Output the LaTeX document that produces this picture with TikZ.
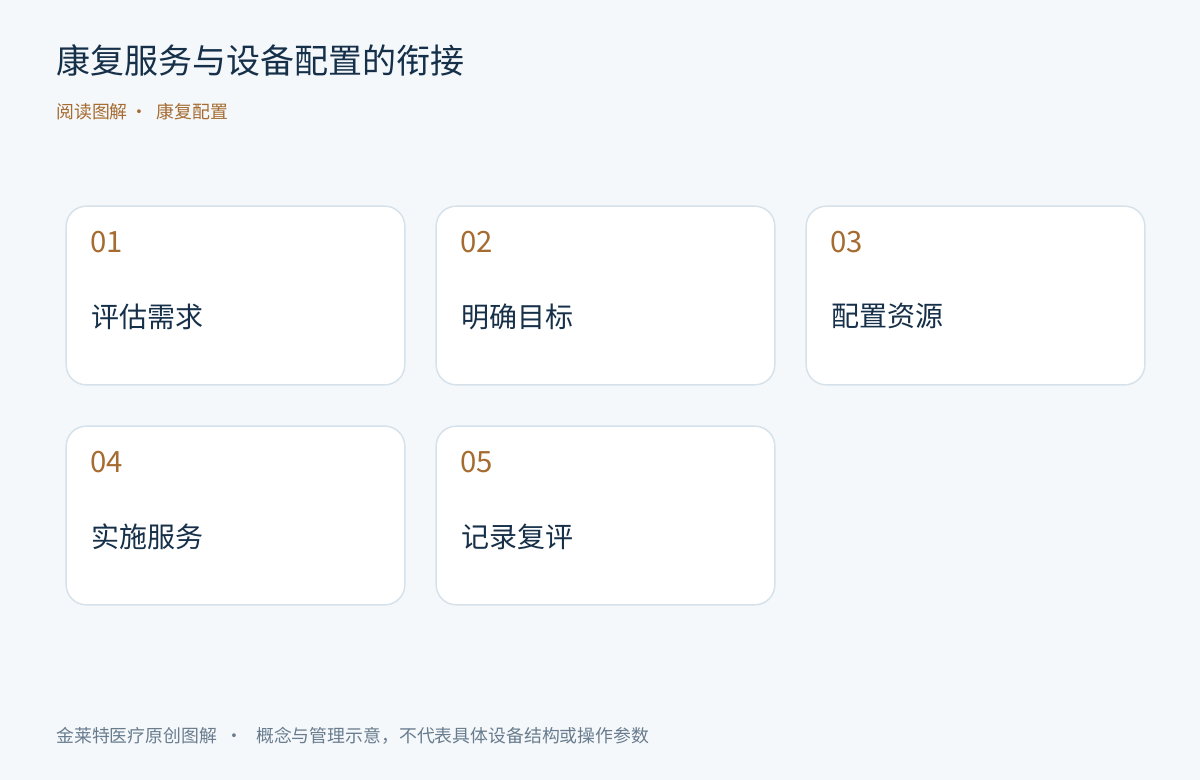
\documentclass[tikz,border=0pt]{standalone}
\usepackage{fontspec}
\setmainfont{Noto Sans CJK SC}
\usetikzlibrary{positioning}
\definecolor{bgpage}{HTML}{F5F8FB}
\definecolor{cardline}{HTML}{D6E2EB}
\definecolor{navy}{HTML}{163049}
\definecolor{bronze}{HTML}{A56B30}
\definecolor{greyblue}{HTML}{687C8E}
\tikzset{
  centered/.style = { align=center, anchor=center },
      card/.style = { draw=cardline, line width=1.1pt, fill=white, rounded corners=15pt,
                      minimum width=254pt, minimum height=134pt, inner sep=0pt },
       num/.style = { font=\fontsize{22}{26}\selectfont, color=bronze, inner sep=0pt, anchor=base west },
     label/.style = { font=\fontsize{21}{25}\selectfont, color=navy, inner sep=0pt, anchor=west },
     title/.style = { font=\fontsize{25.5}{30}\selectfont, color=navy, inner sep=0pt, anchor=west },
      note/.style = { font=\fontsize{13.4}{16}\selectfont, inner sep=0pt, anchor=west }
}
\begin{document}
\begin{tikzpicture}[x=0.75pt,y=-0.75pt]
  \fill[bgpage] (0,0) rectangle (1200,780);
  \useasboundingbox (0,0) rectangle (1200,780);

  \node[title] (title) at (56,60) {康复服务与设备配置的衔接};
  \node[note, color=bronze] (sub) at (56,112) {阅读图解\hspace{2pt}·\hspace{6.5pt}康复配置};

  \node[card] (c1) at (235.5,295.5) {};
  \node[card] (c2) at (605.5,295.5) {};
  \node[card] (c3) at (975.5,295.5) {};
  \node[card] (c4) at (235.5,515.5) {};
  \node[card] (c5) at (605.5,515.5) {};

  \node[num] (n1) at ([shift={(25,47)}]c1.north west) {01};
  \node[num] (n2) at ([shift={(25,47)}]c2.north west) {02};
  \node[num] (n3) at ([shift={(25,47)}]c3.north west) {03};
  \node[num] (n4) at ([shift={(25,47)}]c4.north west) {04};
  \node[num] (n5) at ([shift={(25,47)}]c5.north west) {05};

  \node[label] (l1) at ([shift={(26,111)}]c1.north west) {评估需求};
  \node[label] (l2) at ([shift={(26,111)}]c2.north west) {明确目标};
  \node[label] (l3) at ([shift={(26,111)}]c3.north west) {配置资源};
  \node[label] (l4) at ([shift={(26,111)}]c4.north west) {实施服务};
  \node[label] (l5) at ([shift={(26,111)}]c5.north west) {记录复评};

  \node[note, color=greyblue] (foot) at (56,736) {金莱特医疗原创图解\hspace{6pt}·\hspace{10pt}概念与管理示意，不代表具体设备结构或操作参数};
\end{tikzpicture}
\end{document}
